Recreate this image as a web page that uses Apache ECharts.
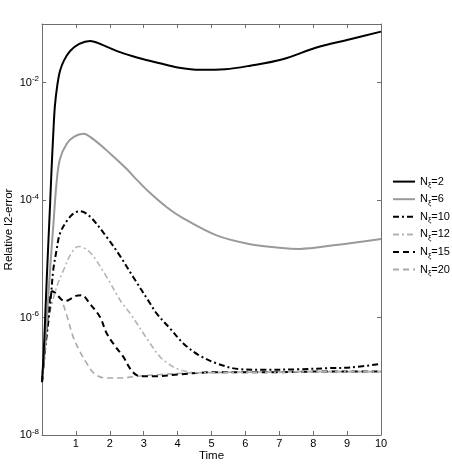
<!DOCTYPE html>
<html>
<head>
<meta charset="utf-8">
<title>Relative l2-error</title>
<script src="https://cdn.jsdelivr.net/npm/echarts@6/dist/echarts.min.js"></script>
<style>
    html, body { margin: 0; padding: 0; background: #fff; }
    #container { width: 452px; height: 464px; }
</style>
</head>
<body>
<div id="container"></div>
<script>
// legend names (the ξ subscript is done with rich text)
var seriesNames = ['2', '6', '10', '12', '15', '20'];

// time points and log10(error)
var timeN2 = [0, 0.05, 0.09, 0.14, 0.19, 0.24, 0.28, 0.33, 0.38, 0.45, 0.53, 0.65, 0.83, 1.1, 1.42, 1.8, 2.3, 2.8, 3.48, 4.0, 4.66, 5.4, 6.14, 7.1, 8.1, 9.09, 10];
var errN2 = [-7.1, -6.6, -6.05, -5.35, -4.69, -4.05, -3.5, -2.9, -2.4, -2.05, -1.80, -1.62, -1.46, -1.34, -1.29, -1.36, -1.48, -1.57, -1.67, -1.74, -1.78, -1.77, -1.71, -1.60, -1.40, -1.26, -1.13];

var timeN6 = [0, 0.1, 0.19, 0.26, 0.33, 0.43, 0.53, 0.73, 0.95, 1.22, 1.51, 2.0, 2.5, 2.79, 3.19, 3.68, 4.17, 5.15, 6.14, 7.0, 7.6, 8.6, 10];
var errN6 = [-7.1, -6.4, -5.6, -5.0, -4.46, -3.7, -3.3, -3.04, -2.92, -2.87, -2.96, -3.2, -3.47, -3.65, -3.88, -4.12, -4.31, -4.60, -4.75, -4.81, -4.83, -4.77, -4.66];

var timeN10 = [0, 0.1, 0.2, 0.27, 0.33, 0.43, 0.53, 0.75, 0.95, 1.12, 1.4, 1.91, 2.3, 2.69, 3.19, 3.38, 3.8, 4.17, 4.6, 5.15, 5.84, 6.5, 7.6, 8.5, 9.1, 10];
var errN10 = [-7.1, -6.5, -6.0, -5.6, -5.2, -4.85, -4.57, -4.34, -4.22, -4.19, -4.27, -4.63, -4.95, -5.31, -5.76, -5.93, -6.2, -6.44, -6.63, -6.78, -6.88, -6.89, -6.88, -6.86, -6.85, -6.79];

var timeN12 = [0, 0.1, 0.2, 0.3, 0.45, 0.63, 0.85, 1.07, 1.4, 1.91, 2.3, 2.6, 3.19, 3.5, 3.87, 4.2, 4.56, 5.0, 6, 7, 8, 9, 10];
var errN12 = [-7.1, -6.5, -6.0, -5.75, -5.45, -5.2, -4.92, -4.79, -4.88, -5.31, -5.7, -5.93, -6.44, -6.68, -6.84, -6.91, -6.94, -6.94, -6.93, -6.93, -6.92, -6.92, -6.92];

var timeN15 = [0, 0.1, 0.2, 0.3, 0.43, 0.55, 0.68, 0.85, 1.0, 1.17, 1.42, 1.71, 1.91, 2.15, 2.4, 2.6, 2.79, 3.0, 3.38, 4.0, 4.66, 5.15, 6, 7, 8, 9, 10];
var errN15 = [-7.1, -6.4, -5.85, -5.55, -5.6, -5.68, -5.72, -5.68, -5.63, -5.62, -5.77, -5.99, -6.27, -6.48, -6.67, -6.87, -6.98, -7.0, -7.0, -6.97, -6.94, -6.93, -6.93, -6.93, -6.92, -6.92, -6.92];

var timeN20 = [0, 0.1, 0.2, 0.32, 0.45, 0.58, 0.75, 0.92, 1.12, 1.32, 1.5, 1.71, 2.0, 2.3, 2.79, 3.5, 4.5, 6, 8, 10];
var errN20 = [-7.1, -6.3, -5.75, -5.55, -5.6, -5.71, -6.0, -6.33, -6.58, -6.78, -6.93, -7.01, -7.03, -7.03, -7.0, -6.97, -6.94, -6.93, -6.92, -6.92];

// y ticks are powers of ten, shown as exponents
var yTicks = [-8, -6, -4, -2];

;
ErrorChartModule = (function (window, document, echarts) {
    var chart;
    var fontName = '"Liberation Sans", Arial, Helvetica, sans-serif';
    var axisColor = '#6e6e6e';

    var ErrorChartClass = function () {
        this.init = function () {
            this.initChart();
        }
    }
    ErrorChartClass.prototype = {
        pairs: function (t, e) {
            var out = [];
            for (var i = 0; i < t.length; i++) {
                out.push([t[i], e[i]]);
            }
            return out;
        },
        makeSeries: function (idx, t, e, color, type, width) {
            return {
                name: seriesNames[idx],
                type: 'line',
                data: this.pairs(t, e),
                smooth: 0.35,
                symbol: 'none',
                silent: true,
                z: 10 - idx,
                lineStyle: {
                    color: color,
                    width: width,
                    type: type
                },
                itemStyle: {
                    color: color
                }
            }
        },
        initChart: function () {
            chart = echarts.init(document.getElementById('container'));
            var supRich = {
                b: { fontSize: 11, color: '#000', fontFamily: fontName },
                s: { fontSize: 8, color: '#000', fontFamily: fontName, padding: [0, 0, 7, 0] }
            };
            var option = {
                animation: false,
                backgroundColor: '#fff',
                textStyle: { fontFamily: fontName },
                grid: {
                    left: 42,
                    top: 24,
                    right: 71,
                    bottom: 29,
                    outerBoundsMode: 'none'
                },
                legend: {
                    orient: 'vertical',
                    left: 392,
                    top: 176,
                    padding: 0,
                    itemWidth: 22,
                    itemHeight: 14,
                    itemGap: 4.5,
                    data: seriesNames,
                    itemStyle: { opacity: 0 },
                    formatter: function (name) {
                        return '{b|N}{s|ξ}{b|=' + name + '}';
                    },
                    textStyle: {
                        color: '#000',
                        rich: {
                            b: { fontSize: 11, color: '#000', fontFamily: fontName },
                            s: { fontSize: 7.5, color: '#000', fontFamily: fontName, padding: [7, 0, 0, 0] }
                        }
                    }
                },
                xAxis: [{
                    type: 'value',
                    min: 0,
                    max: 10,
                    interval: 1,
                    name: 'Time',
                    nameLocation: 'middle',
                    nameGap: 15,
                    nameMoveOverlap: false,
                    nameTextStyle: { color: '#000', fontSize: 11.5, fontFamily: fontName },
                    axisLine: { show: true, lineStyle: { color: axisColor, width: 1 } },
                    axisTick: { show: true, inside: true, length: 4, lineStyle: { color: axisColor } },
                    axisLabel: {
                        margin: 3,
                        color: '#000',
                        fontSize: 11,
                        showMinLabel: false,
                        formatter: function (v) {
                            return v === 0 ? '' : String(v);
                        }
                    },
                    splitLine: { show: false }
                }, {
                    type: 'value',
                    position: 'top',
                    min: 0,
                    max: 10,
                    interval: 1,
                    axisLine: { show: true, onZero: false, lineStyle: { color: axisColor, width: 1 } },
                    axisTick: { show: true, inside: true, length: 4, lineStyle: { color: axisColor } },
                    axisLabel: { show: false },
                    splitLine: { show: false }
                }],
                yAxis: [{
                    type: 'value',
                    min: -8,
                    max: -1,
                    interval: 2,
                    name: 'Relative l2-error',
                    nameLocation: 'middle',
                    nameGap: 27,
                    nameMoveOverlap: false,
                    nameRotate: 90,
                    nameTextStyle: { color: '#000', fontSize: 11.5, fontFamily: fontName },
                    axisLine: { show: true, lineStyle: { color: axisColor, width: 1 } },
                    axisTick: { show: true, inside: true, length: 4, lineStyle: { color: axisColor } },
                    axisLabel: {
                        margin: 3,
                        showMaxLabel: false,
                        formatter: function (v) {
                            if (yTicks.indexOf(v) < 0) return '';
                            return '{b|10}{s|' + v + '}';
                        },
                        rich: supRich
                    },
                    splitLine: { show: false }
                }, {
                    type: 'value',
                    position: 'right',
                    min: -8,
                    max: -1,
                    interval: 2,
                    axisLine: { show: true, onZero: false, lineStyle: { color: axisColor, width: 1 } },
                    axisTick: { show: true, inside: true, length: 4, lineStyle: { color: axisColor } },
                    axisLabel: { show: false },
                    splitLine: { show: false }
                }],
                series: [
                    this.makeSeries(0, timeN2, errN2, '#000000', 'solid', 2),
                    this.makeSeries(1, timeN6, errN6, '#9a9a9a', 'solid', 2),
                    this.makeSeries(2, timeN10, errN10, '#000000', [6, 3, 2, 3], 2),
                    this.makeSeries(3, timeN12, errN12, '#b4b4b4', [6, 3, 2, 3], 1.6),
                    this.makeSeries(4, timeN15, errN15, '#000000', [6, 4], 2),
                    this.makeSeries(5, timeN20, errN20, '#aaaaaa', [6, 4], 1.6)
                ]
            };
            chart.setOption(option);
        },
        constructor: ErrorChartClass
    };
    return new ErrorChartClass();
})(window, document, echarts);
ErrorChartModule.init();
</script>
</body>
</html>
